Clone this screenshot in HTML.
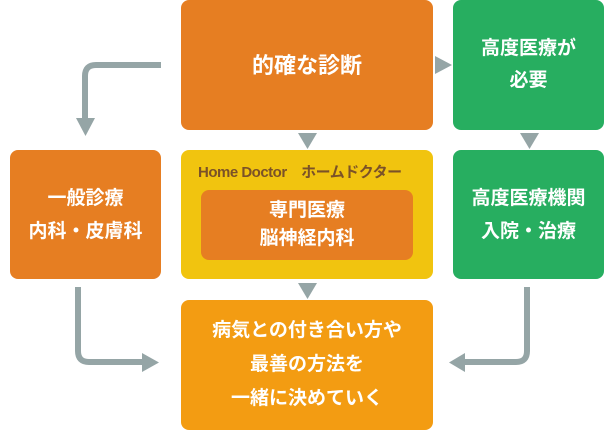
<!DOCTYPE html>
<html><head><meta charset="utf-8"><style>
body{margin:0;width:610px;height:430px;background:#fff;position:relative;overflow:hidden;font-family:"Liberation Sans","Noto Sans CJK JP",sans-serif;font-weight:bold}
.b{position:absolute;border-radius:8px;color:#fff;display:flex;align-items:center;justify-content:center;text-align:center;font-size:19px;line-height:33px}
</style></head><body>
<div class="b" style="left:181px;top:0;width:252px;height:130px;background:#e67e22;font-size:22px">的確な診断</div>
<div class="b" style="left:453px;top:0;width:151px;height:130px;background:#27ae60;line-height:32px">高度医療が<br>必要</div>
<div class="b" style="left:10px;top:150px;width:151px;height:129px;background:#e67e22">一般診療<br>内科・皮膚科</div>
<div class="b" style="left:181px;top:150px;width:252px;height:129px;background:#f1c40f"></div>
<div style="position:absolute;left:198px;top:161px;font-size:15px;color:#7b5228;letter-spacing:-0.5px">Home Doctor　ホームドクター</div>
<div class="b" style="left:201px;top:190px;width:212px;height:70px;background:#e67e22;line-height:28px">専門医療<br>脳神経内科</div>
<div class="b" style="left:453px;top:150px;width:151px;height:129px;background:#27ae60">高度医療機関<br>入院・治療</div>
<div class="b" style="left:181px;top:300px;width:252px;height:130px;background:#f39c12;line-height:34px">病気との付き合い方や<br>最善の方法を<br>一緒に決めていく</div>
<svg width="610" height="430" style="position:absolute;left:0;top:0">
<g fill="none" stroke="#95a5a6" stroke-width="6">
<path d="M161 65 H96 Q85 65 85 76 V120"/>
<path d="M78 287 V351 Q78 362 89 362 H145"/>
<path d="M527 287 V351 Q527 362 516 362 H463"/>
</g>
<g fill="#95a5a6">
<polygon points="76,118 95,118 85.5,136"/>
<polygon points="435,56 452,65 435,74"/>
<polygon points="298,133 317,133 307.5,149"/>
<polygon points="520,133 539,133 529.5,149"/>
<polygon points="298,283 317,283 307.5,299"/>
<polygon points="142,353 159,362.5 142,372"/>
<polygon points="465,353 449,362.5 465,372"/>
</g>
</svg>
</body></html>
